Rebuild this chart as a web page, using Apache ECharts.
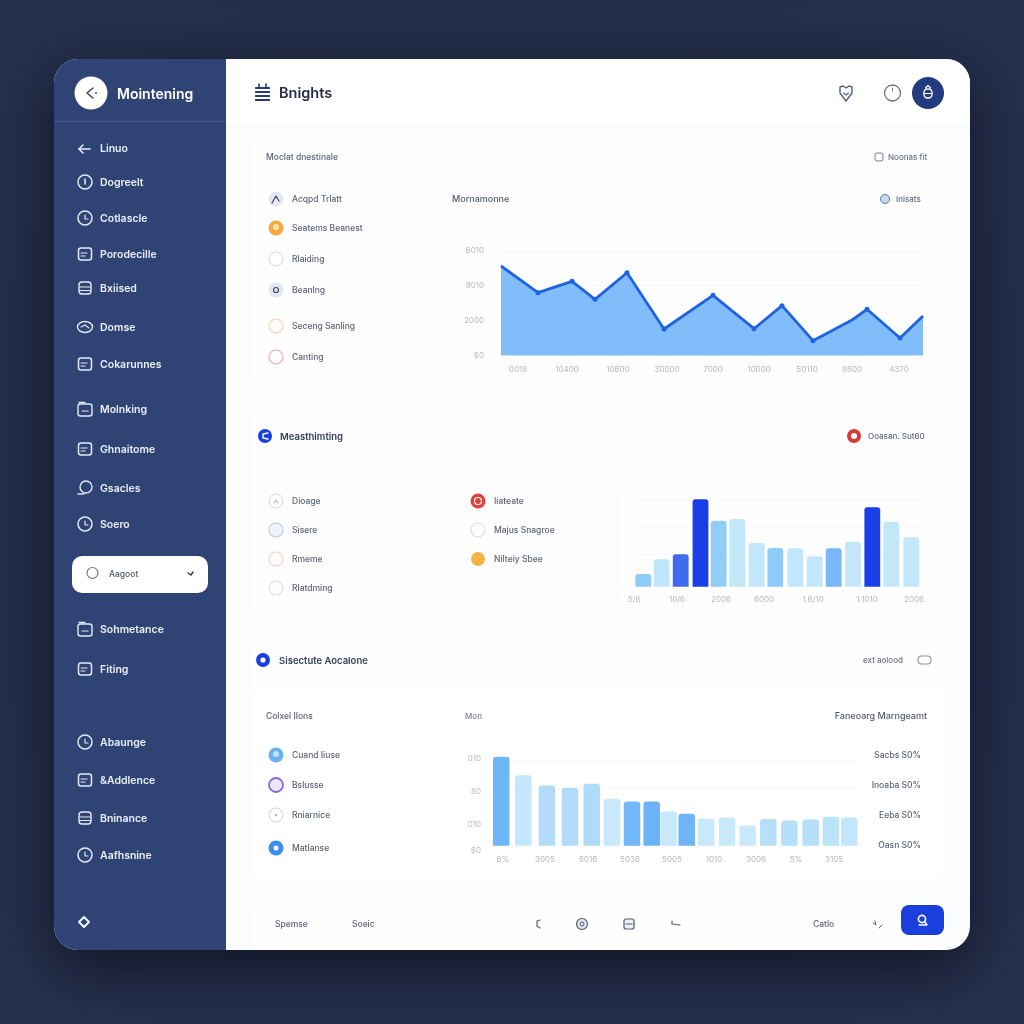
<!DOCTYPE html>
<html>
<head>
<meta charset="utf-8">
<title>Mointening</title>
<style>html,body{margin:0;padding:0;background:#252f4a}#c{width:1024px;height:1024px}</style>
<script src="https://cdn.jsdelivr.net/npm/echarts@6/dist/echarts.min.js"></script>
</head>
<body>
<div id="c"></div>
<script>
// ---- Area chart data ----
const lineX = [0, 37, 71, 94, 126, 163, 212, 253, 281, 312, 351, 366, 399, 422];
const lineY = [5114, 3589, 4240, 3211, 4731, 1514, 3440, 1531, 2846, 846, 2029, 2640, 1000, 2257];
const lineXTicks = [17, 66, 117, 166, 212, 258, 306, 351, 398];
const lineXLabels = ['0018', '10400', '10600', '30000', '7000', '10000', '50110', '9800', '4370'];
const lineYTicks = [0, 2000, 4000, 6000];
const lineYLabels = ['$0', '2000', '8010', '6010'];
const lineGrid = [3990, 5900];
const lineDotless = [0, 10, 13];

// ---- Middle bar chart data ----
const midX = [9.3, 27.7, 46.7, 66.5, 84.7, 103.3, 122.7, 141.3, 161.2, 180.7, 199.7, 219, 238.3, 257.3, 277.3];
const midValues = [38, 82, 97, 262, 198, 203, 131, 116, 115, 91, 115, 135, 238, 195, 148];
const midColors = ['#8ecbf7', '#c0e6fb', '#3e69f0', '#1a3ee8', '#92cdf8', '#c2e7fb', '#c2e7fb', '#8dcbf8', '#c2e7fb', '#c2e7fb', '#78b8f6', '#c2e7fb', '#1a3ee8', '#c2e7fb', '#c2e7fb'];
const midXTicks = [0, 43, 87, 130, 179, 233, 280];
const midXLabels = ['5/6', '10/6', '2006', '6000', '1.6/10', '1.1010', '2006'];
const midGrid = [98, 180, 260];

// ---- Lower bar chart data ----
const lowX = [9.2, 31.3, 54.8, 78, 99.7, 120, 140, 159.7, 176.5, 194.7, 214, 235, 255.7, 276.3, 297.3, 318.7, 339, 357.2];
const lowValues = [267, 211, 181, 174, 186, 141, 133, 133, 103, 96, 82, 85, 61, 80, 76, 79, 87, 85];
const lowColors = ['#6fb6f7', '#c4e8fb', '#b4dcf9', '#b2dcf9', '#aedbf9', '#c8e9fb', '#72b8f7', '#6bb3f6', '#c8e9fb', '#6fb5f6', '#c8e9fb', '#c8e9fb', '#c8e9fb', '#b6e0fa', '#b6e0fa', '#b6e0fa', '#bde3fa', '#c4e6fb'];
const lowXTicks = [11, 53, 96, 138, 180, 222, 264, 304, 342];
const lowXLabels = ['6%', '3005', '6016', '5036', '5005', '1010', '3006', '5%', '3105'];
const lowYTicks = [-16, 64, 162, 260];
const lowYLabels = ['$0', '010', '80', '010'];
const lowGrid = [172, 252];

// ---- Text lists ----
const sidebarItems = ['Linuo', 'Dogreelt', 'Cotlascle', 'Porodecille', 'Bxiised', 'Domse', 'Cokarunnes', 'Molnking', 'Ghnaitome', 'Gsacles', 'Soero', 'Sohmetance', 'Fiting', 'Abaunge', '&Addlence', 'Bninance', 'Aafhsnine'];
const sidebarRows = [148, 182, 218, 254, 288, 327, 364, 409, 449, 488, 524, 629, 669, 742, 780, 818, 855];
const sidebarIconKinds = ['arrow', 'alert', 'clock', 'box', 'stack', 'cloud', 'box', 'folder', 'box', 'bubble', 'clock', 'folder', 'box', 'clock', 'box', 'stack', 'clock'];
const list1 = ['Acqpd Trlatt', 'Seatems Beanest', 'Rlaiding', 'Beanlng', 'Seceng Sanling', 'Canting'];
const list1Rows = [199, 228, 259, 290, 326, 357];
const list2a = ['Dioage', 'Sisere', 'Rmeme', 'Rlatdming'];
const list2b = ['Iiateate', 'Majus Snagroe', 'Nilteiy Sbee'];
const list2Rows = [501, 530, 559, 588];
const list3 = ['Cuand Iiuse', 'Bslusse', 'Rniarnice', 'Matlanse'];
const list3Rows = [755, 785, 815, 848];
const rightStats = ['Sacbs S0%', 'Inoaba S0%', 'Eeba S0%', 'Oasn S0%'];
const rightRows = [755, 785, 815, 845];

const FONT = 'Inter, "Noto Sans", sans-serif';
const NAVY = '#2f4475', ROYAL = '#1b3fdc', INK = '#5b6578';
const g = [];

function rect(x, y, w, h, r, fill, extra) {
  g.push({ type: 'rect', silent: true, z: -1, shape: { x, y, width: w, height: h, r }, style: Object.assign({ fill }, extra || {}) });
}
function circle(cx, cy, r, fill, stroke, lw) {
  g.push({ type: 'circle', silent: true, z: -1, shape: { cx, cy, r }, style: { fill: fill || 'none', stroke: stroke || 'none', lineWidth: lw || 1 } });
}
function poly(points, stroke, lw) {
  g.push({ type: 'polyline', silent: true, z: -1, shape: { points }, style: { fill: 'none', stroke, lineWidth: lw || 1.3, lineCap: 'round', lineJoin: 'round' } });
}
function text(s, x, y, size, fill, weight, align) {
  g.push({ type: 'text', silent: true, z: 5, style: { text: s, x, y: y + 0.7, fill, font: (weight || 500) + ' ' + size + 'px ' + FONT, textAlign: align || 'left', textVerticalAlign: 'middle' } });
}

// Page card and sidebar
rect(54, 59, 916, 891, 24, '#fbfcfd', { shadowBlur: 60, shadowColor: 'rgba(8,10,22,0.7)', shadowOffsetY: 18 });
rect(54, 59, 172, 891, [24, 0, 0, 24], NAVY);
rect(54, 121, 172, 1, 0, '#42578a');
rect(226, 59, 744, 63, [0, 24, 0, 0], '#ffffff');

// Panels
rect(250, 138, 695, 250, 12, '#fefefe');
rect(250, 407, 695, 210, 12, '#fefefe');
rect(250, 636, 695, 244, 12, '#fefefe');
rect(250, 688, 695, 192, 12, '#ffffff');
rect(250, 900, 695, 50, 12, '#fefefe');

// Sidebar header
circle(91, 93, 16.5, '#ffffff');
poly([[93, 88], [87, 93], [93, 98]], '#3a4660', 1.5);
circle(96, 93, 0.9, '#3a4660');
text('Mointening', 117, 94.5, 14, '#ffffff', 600);

// Sidebar entries
sidebarItems.forEach((label, i) => {
  const y = sidebarRows[i], kind = sidebarIconKinds[i], c = '#e3e9f6';
  if (kind === 'arrow') {
    poly([[90, 149], [79, 149]], c, 1.6); poly([[83, 145], [79, 149], [83, 153]], c, 1.6);
  } else if (kind === 'clock') {
    circle(85, y, 7, 'none', c, 1.5); poly([[85, y - 3], [85, y + 1], [88, y + 1]], c, 1.2);
  } else if (kind === 'alert') {
    circle(85, y, 7, 'none', c, 1.5); poly([[85, y - 3], [85, y + 2]], c, 1.6);
  } else if (kind === 'stack') {
    rect(79, y - 6, 12, 12, 3, 'none', { stroke: c, lineWidth: 1.4 });
    poly([[79.5, y - 1], [90.5, y - 1]], c, 1.1); poly([[79.5, y + 2.5], [90.5, y + 2.5]], c, 1.1);
  } else if (kind === 'cloud') {
    g.push({ type: 'ellipse', silent: true, z: -1, shape: { cx: 85, cy: y, rx: 7.5, ry: 5.5 }, style: { fill: 'none', stroke: c, lineWidth: 1.4 } });
    poly([[81, y], [85, y - 2], [89, y + 1]], c, 1.1);
  } else if (kind === 'bubble') {
    circle(86, y - 1, 6, 'none', c, 1.4); poly([[78, y + 6], [84, y + 6]], c, 1.3);
  } else if (kind === 'folder') {
    rect(78, y - 5, 14, 12, 2.5, 'none', { stroke: c, lineWidth: 1.4 });
    poly([[79, y - 6.5], [85, y - 6.5]], c, 1.3); poly([[82, y + 2], [88, y + 2]], c, 1.1);
  } else {
    rect(78.5, y - 6, 13, 12, 2.5, 'none', { stroke: c, lineWidth: 1.5 });
    poly([[81, y - 1], [87, y - 1]], c, 1.1); poly([[81, y + 2], [85, y + 2]], c, 1.1);
  }
  text(label, 100, y, 10.5, '#e9eef8', 600);
});

// Selected pill
rect(72, 556, 136, 37, 10, '#ffffff');
circle(92.5, 573, 5.5, 'none', '#66718a', 1.1);
text('Aagoot', 109, 574, 8.5, '#4c566b', 500);
poly([[188, 573], [191, 575], [193, 572]], '#2a3650', 1.4);
poly([[84, 917], [89, 922], [84, 927], [79, 922], [84, 917]], '#eef2fa', 2);

// Top bar
[88, 92, 96, 100].forEach(y => rect(255, y - 1, 15, 2, 0.5, '#26397a'));
poly([[259, 84], [259, 87]], '#26397a', 1.6); poly([[266, 84], [266, 87]], '#26397a', 1.6);
text('Bnights', 279, 92.5, 14.5, '#232d45', 600);
poly([[840, 87], [843, 86], [846, 88], [849, 86], [852, 87], [852, 93], [846, 101], [840, 93], [840, 87]], '#4e6080', 1.4);
poly([[843.5, 93], [846, 95], [848.5, 93]], '#4e6080', 1.1);
circle(892.5, 93, 8, 'none', '#64708a', 1.3);
poly([[892.5, 88], [892.5, 91]], '#64708a', 1);
circle(928, 93, 16, '#233c80');
rect(924, 89, 8, 9, 3.5, 'none', { stroke: '#ffffff', lineWidth: 1.4 });
poly([[925, 93.5], [931, 93.5]], '#ffffff', 1.1);
poly([[925.5, 88], [928, 85.5], [930.5, 88]], '#ffffff', 1.2);

// Panel 1 text
text('Moclat dnestinale', 266, 157, 8.5, INK, 500);
rect(875, 153, 8, 8, 2, 'none', { stroke: '#737d90', lineWidth: 1 });
text('Noonas fit', 888, 157, 8, '#6a7486', 500);
text('Mornamonne', 452, 199, 9, '#515c70', 500);
circle(885, 199, 4.5, '#c9d6f0', '#5e7ab8', 1);
text('Inlsats', 896, 199, 8, '#5e6b82', 500);
list1.forEach((s, i) => text(s, 292, list1Rows[i], 8.5, INK, 500));
circle(276, 199, 7.5, '#e4e8f0'); poly([[272, 203], [276, 196], [279, 201]], '#3b4660', 1.2);
circle(276, 228, 7.5, '#f5ab3e'); circle(276, 227, 3, '#fde3b4');
circle(276, 259, 7, '#ffffff', '#d8dbe1', 1.1);
circle(276, 290, 7.5, '#e2e7f1'); circle(276, 290, 2.5, 'none', '#3d4a66', 1.2);
circle(276, 326, 7, '#fffdfa', '#f3d3ae', 1.1);
circle(276, 357, 7, '#fffdfd', '#eeaab4', 1.2);

// Panel 2 text
circle(265, 436, 7, ROYAL); poly([[268, 433], [263, 434], [263, 438], [268, 439]], '#ffffff', 1.4);
text('Measthimting', 280, 436, 9.5, '#33415c', 600);
circle(854, 436, 7, '#d63a36'); circle(854, 436, 3, '#ffffff');
text('Ooasan. Sut60', 868, 436, 8, '#5e6b82', 500);
list2a.forEach((s, i) => text(s, 292, list2Rows[i], 8.5, INK, 500));
list2b.forEach((s, i) => text(s, 494, list2Rows[i], 8.5, INK, 500));
circle(276, 501, 7, '#fdfdfd', '#dcdde2', 1.1); poly([[274, 503], [276, 500], [278, 503]], '#e98b92', 1);
circle(276, 530, 7, '#eff3fd', '#b6c6ee', 1.1);
circle(276, 559, 7, '#fffdfc', '#f2cfc2', 1.1);
circle(276, 588, 7, '#fefefe', '#dfe0e4', 1.1);
circle(478, 501, 7.5, '#dc423e'); circle(478, 501, 3.5, 'none', '#ffffff', 1.2);
circle(478, 530, 7, '#fefefe', '#d9dce2', 1.1);
circle(478, 559, 7, '#f4b344');
g.push({ type: 'line', silent: true, z: -1, shape: { x1: 618, y1: 490, x2: 618, y2: 603 }, style: { stroke: '#f3f4f7', lineWidth: 1 } });

// Panel 3 text
circle(263, 660, 7, ROYAL); circle(263, 660, 2.6, '#ffffff');
text('Sisectute Aocalone', 279, 660, 9.5, '#33415c', 600);
text('ext aolood', 863, 660, 8, '#6a7486', 500);
rect(918, 656, 13, 8, 3.5, 'none', { stroke: '#8791a2', lineWidth: 1.1 });
text('Colxel Ilons', 266, 716, 8.5, INK, 500);
text('Mon', 465, 716, 8, '#7a8496', 500);
text('Faneoarg Marngeamt', 927, 716, 9, '#515c70', 500, 'right');
list3.forEach((s, i) => text(s, 292, list3Rows[i], 8.5, INK, 500));
rightStats.forEach((s, i) => text(s, 921, rightRows[i], 8.5, INK, 500, 'right'));
circle(276, 755, 7.5, '#69b2ee'); circle(276, 754, 3, '#bfe0f8');
circle(276, 785, 7, '#eee8fb', '#8a68d8', 1.8);
circle(276, 815, 7, '#fefefe', '#d4d7dd', 1.1); circle(276, 815, 1, '#8b93a3');
circle(276, 848, 7.5, '#3b8df0'); circle(276, 848, 2.5, '#ffffff');

// Footer
text('Spemse', 275, 924, 8.5, INK, 500);
text('Soeic', 352, 924, 8.5, INK, 500);
poly([[540, 920], [537, 921], [537, 926], [540, 928]], '#566177', 1.2);
circle(582, 924, 5.5, '#dfe4ee', '#4f5b73', 1.2); circle(582, 924, 2, 'none', '#4f5b73', 1);
rect(624, 919, 10, 10, 2, '#eef0f4', { stroke: '#4f5b73', lineWidth: 1.2 }); poly([[626, 924], [632, 924]], '#4f5b73', 1.1);
poly([[672, 921], [672, 924], [680, 925]], '#566177', 1.2);
text('Catlo', 813, 924, 8.5, INK, 500);
poly([[873, 923], [876, 925], [875, 921]], '#566177', 1); poly([[879, 928], [882, 925]], '#566177', 1);
rect(901, 905, 43, 30, 8, ROYAL);
circle(922, 919, 3.6, 'none', '#ffffff', 1.6); poly([[925, 922], [927, 925], [919, 925]], '#ffffff', 1.5);

const tickFont = { color: '#b3b9c4', fontSize: 8, fontFamily: FONT };
const gridLine = { show: true, lineStyle: { color: '#f6f7f9', width: 1 } };
const lookup = (ticks, labels) => v => {
  const i = ticks.indexOf(v);
  return i < 0 ? '' : labels[i];
};

const chart = echarts.init(document.getElementById('c'), null, { width: 1024, height: 1024 });
chart.setOption({
  backgroundColor: {
    type: 'radial', x: 0.5, y: 0.48, r: 0.75,
    colorStops: [{ offset: 0, color: '#242e49' }, { offset: 0.7, color: '#252f4b' }, { offset: 1, color: '#28324e' }]
  },
  animation: false,
  graphic: { elements: g },
  grid: [
    { left: 501, width: 422, top: 248.75, height: 106.75 },
    { left: 634, width: 287, top: 496.7, height: 90 },
    { left: 492, width: 365, top: 755.7, height: 96.7 }
  ],
  xAxis: [
    {
      gridIndex: 0, type: 'value', min: 0, max: 422,
      axisLine: { show: false }, axisTick: { show: false }, splitLine: { show: false },
      axisLabel: Object.assign({ customValues: lineXTicks, formatter: lookup(lineXTicks, lineXLabels), margin: 10 }, tickFont)
    },
    {
      gridIndex: 1, type: 'value', min: 0, max: 287,
      axisLine: { show: false }, axisTick: { show: false }, splitLine: { show: false },
      axisLabel: Object.assign({ customValues: midXTicks, formatter: lookup(midXTicks, midXLabels), margin: 9 }, tickFont)
    },
    {
      gridIndex: 2, type: 'value', min: 0, max: 365,
      axisLine: { show: false }, axisTick: { show: false }, splitLine: { show: false },
      axisLabel: Object.assign({ customValues: lowXTicks, formatter: lookup(lowXTicks, lowXLabels), margin: 3 }, tickFont)
    }
  ],
  yAxis: [
    {
      gridIndex: 0, type: 'value', min: 0, max: 6100,
      axisLine: { show: false }, axisTick: { show: false, customValues: lineGrid }, splitLine: gridLine,
      axisLabel: Object.assign({ customValues: lineYTicks, formatter: lookup(lineYTicks, lineYLabels), margin: 17 }, tickFont)
    },
    {
      gridIndex: 1, type: 'value', min: 0, max: 270,
      axisLine: { show: false }, axisTick: { show: false, customValues: midGrid }, splitLine: gridLine,
      axisLabel: { show: false }
    },
    {
      gridIndex: 2, type: 'value', min: -20, max: 270,
      axisLine: { show: false }, axisTick: { show: false, customValues: lowGrid }, splitLine: gridLine,
      axisLabel: Object.assign({ customValues: lowYTicks, formatter: lookup(lowYTicks, lowYLabels), margin: 11 }, tickFont)
    }
  ],
  series: [
    {
      type: 'line', xAxisIndex: 0, yAxisIndex: 0,
      data: lineX.map((x, i) => [x, lineY[i]]),
      symbol: 'circle', showSymbol: true,
      symbolSize: (v, p) => (lineDotless.includes(p.dataIndex) ? 0 : 5),
      lineStyle: { color: '#1f62e2', width: 2.8, join: 'round' },
      itemStyle: { color: '#1f62e2' },
      areaStyle: { color: '#80bdfa', opacity: 1 },
      silent: true
    },
    {
      type: 'bar', xAxisIndex: 1, yAxisIndex: 1, barWidth: 15.8,
      data: midX.map((x, i) => ({ value: [x, midValues[i]], itemStyle: { color: midColors[i], borderRadius: [3, 3, 0, 0] } })),
      silent: true
    },
    {
      type: 'bar', xAxisIndex: 2, yAxisIndex: 2, barWidth: 16.5,
      data: lowX.map((x, i) => ({ value: [x, lowValues[i]], itemStyle: { color: lowColors[i], borderRadius: [3, 3, 0, 0] } })),
      silent: true
    }
  ]
});
</script>
</body>
</html>
